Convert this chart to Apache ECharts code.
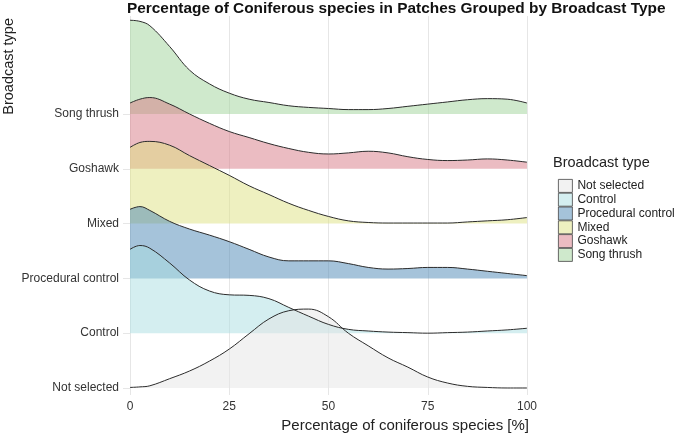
<!DOCTYPE html>
<html>
<head>
<meta charset="utf-8">
<script src="https://cdn.jsdelivr.net/npm/echarts@6/dist/echarts.min.js"></script>
<style>
  html, body { margin: 0; padding: 0; background: #fff; }
  #chart { width: 675px; height: 436px; }
</style>
</head>
<body>
<div id="chart"></div>
<script>
// x positions (percentage of coniferous species)
const xValues = [0, 2.5, 5, 10, 15, 20, 25, 30, 35, 40, 45, 50, 55, 60, 65, 70, 75, 80, 85, 90, 95, 100]

// broadcast types, bottom row first
const categories = ['Not selected', 'Control', 'Procedural control', 'Mixed', 'Goshawk', 'Song thrush']

// ridge heights (in row units)
const notSelected = [0.01, 0.02, 0.04, 0.17, 0.31, 0.49, 0.71, 0.99, 1.26, 1.41, 1.44, 1.30, 1.00, 0.77, 0.55, 0.38, 0.20, 0.09, 0.03, 0.01, 0, 0]
const control = [1.53, 1.60, 1.55, 1.28, 0.97, 0.77, 0.70, 0.69, 0.63, 0.47, 0.31, 0.16, 0.07, 0.04, 0.02, 0.01, 0, 0.01, 0.02, 0.04, 0.06, 0.09]
const proceduralControl = [1.26, 1.31, 1.24, 1.04, 0.90, 0.79, 0.67, 0.53, 0.39, 0.32, 0.32, 0.32, 0.27, 0.20, 0.17, 0.18, 0.20, 0.20, 0.17, 0.13, 0.09, 0.05]
const mixed = [1.39, 1.48, 1.50, 1.43, 1.24, 1.06, 0.88, 0.69, 0.53, 0.37, 0.24, 0.13, 0.05, 0.02, 0.01, 0.01, 0.01, 0.01, 0.03, 0.05, 0.07, 0.11]
const goshawk = [1.20, 1.27, 1.30, 1.18, 1.00, 0.83, 0.68, 0.57, 0.46, 0.37, 0.30, 0.27, 0.29, 0.32, 0.29, 0.22, 0.17, 0.15, 0.16, 0.18, 0.16, 0.12]
const songThrush = [1.71, 1.69, 1.61, 1.23, 0.80, 0.55, 0.38, 0.27, 0.21, 0.15, 0.12, 0.10, 0.08, 0.08, 0.10, 0.14, 0.18, 0.22, 0.26, 0.28, 0.27, 0.20]

const heights = [notSelected, control, proceduralControl, mixed, goshawk, songThrush]
// fill colours (drawn at half opacity) and the legend swatches
const fillColors = ['#e5e5e5', '#a9dde1', '#4b87b5', '#dde181', '#d77985', '#9fd399']
const swatchColors = ['#f2f2f2', '#d4eef0', '#a5c3da', '#eef0c0', '#ebbcc2', '#cfe9cc']

const xTicks = [0, 25, 50, 75, 100]
const fontFamily = 'Liberation Sans, Arial, sans-serif'

let myChart = echarts.init(document.getElementById('chart'))

let series = []
// top row first so the lower ridges are painted over it
for (let i = categories.length - 1; i >= 0; i--) {
  let base = i + 1
  series.push({
    name: categories[i],
    type: 'line',
    smooth: 0.4,
    symbol: 'none',
    color: fillColors[i],
    lineStyle: { color: '#2b2b2b', width: 1 },
    areaStyle: { color: fillColors[i], opacity: 0.5, origin: base },
    data: xValues.map((x, k) => [x, base + heights[i][k]])
  })
}

myChart.setOption({
  animation: false,
  textStyle: { fontFamily: fontFamily },
  title: [
    {
      text: 'Percentage of Coniferous species in Patches Grouped by Broadcast Type',
      left: 122,
      top: -4,
      textStyle: { fontSize: 15.4, fontWeight: 'bold', color: '#111' }
    },
    {
      text: 'Broadcast type',
      left: 548,
      top: 150,
      textStyle: { fontSize: 14.5, fontWeight: 'normal', color: '#222' }
    }
  ],
  legend: {
    orient: 'vertical',
    left: 553,
    top: 174,
    icon: 'rect',
    itemWidth: 14,
    itemHeight: 13,
    itemGap: 0,
    selectedMode: false,
    textStyle: { fontSize: 12, color: '#222', lineHeight: 13 },
    data: categories.map((c, i) => ({
      name: c,
      itemStyle: { color: swatchColors[i], borderColor: '#444', borderWidth: 0.8, opacity: 1 }
    }))
  },
  grid: {
    left: 130,
    right: 148,
    top: 16,
    bottom: 41,
    containLabel: false
  },
  xAxis: {
    type: 'value',
    min: 0,
    max: 100,
    interval: 25,
    axisLine: { show: false },
    axisTick: { show: false },
    axisLabel: { color: '#333', fontSize: 12, margin: 6, customValues: xTicks },
    splitLine: { show: true, lineStyle: { color: '#e6e6e6', width: 1 } }
  },
  yAxis: {
    type: 'value',
    min: 0.872,
    max: 7.788,
    axisLine: { show: false },
    axisTick: { show: true, length: 7, customValues: [1, 2, 3, 4, 5, 6], lineStyle: { color: '#e6e6e6' } },
    axisLabel: {
      color: '#333',
      fontSize: 12,
      margin: 11,
      padding: [0, 0, 8, 0],
      customValues: [1, 2, 3, 4, 5, 6],
      formatter: (v) => categories[Math.round(v) - 1]
    },
    splitLine: { show: false }
  },
  graphic: [
    {
      type: 'text',
      right: 146,
      top: 418,
      style: { text: 'Percentage of coniferous species [%]', fontSize: 15, fill: '#222', fontFamily: fontFamily }
    },
    {
      type: 'text',
      left: 1,
      top: 18,
      rotation: Math.PI / 2,
      style: { text: 'Broadcast type', fontSize: 14.5, fill: '#222', fontFamily: fontFamily }
    }
  ],
  series: series
})
</script>
</body>
</html>
